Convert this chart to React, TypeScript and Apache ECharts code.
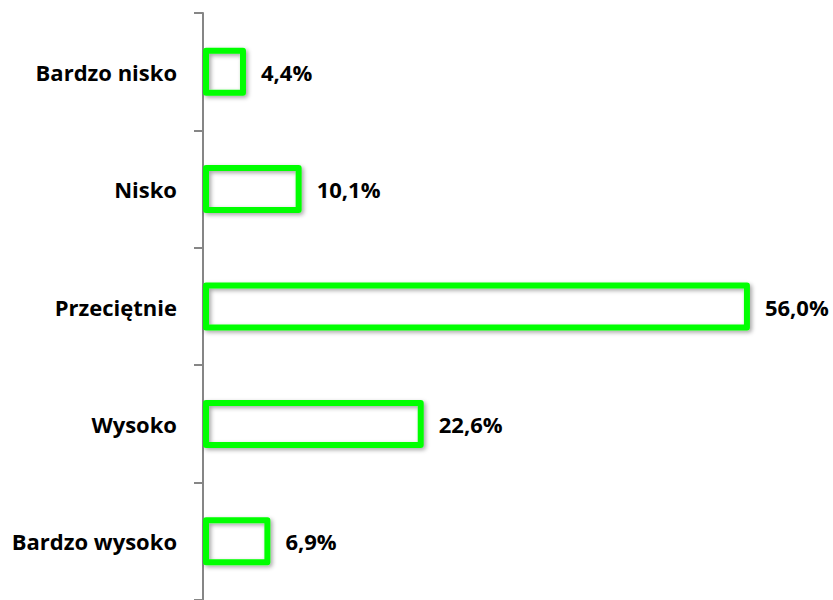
import React, { useEffect, useRef } from "react";
import * as echarts from "echarts";

const categories = ["Bardzo nisko", "Nisko", "Przeciętnie", "Wysoko", "Bardzo wysoko"];
const values = [4.4, 10.1, 56.0, 22.6, 6.9];

export default function App() {
  const ref = useRef<HTMLDivElement>(null);
  useEffect(() => {
    if (!ref.current) return;
    const chart = echarts.init(ref.current, undefined, { renderer: "svg" });
    chart.setOption({
      animation: false,
      backgroundColor: "#ffffff",
      grid: { left: 203, top: 13, width: 586, height: 592.5, containLabel: false },
      xAxis: {
        type: "value",
        min: 0,
        max: 60,
        show: false,
      },
      yAxis: {
        type: "category",
        data: categories,
        inverse: true,
        axisLine: { show: true, lineStyle: { color: "#868686", width: 2 } },
        axisTick: { show: true, length: 9, lineStyle: { color: "#868686", width: 2 } },
        axisLabel: {
          margin: 26,
          fontFamily: "Open Sans",
          fontWeight: "bold",
          fontSize: 22,
          color: "#000000",
        },
        splitLine: { show: false },
      },
      series: [
        {
          type: "bar",
          data: values,
          barWidth: 48,
          itemStyle: {
            color: "rgba(255,255,255,0)",
            borderColor: "#00ff00",
            borderWidth: 6,
            borderJoin: "round",
            shadowBlur: 4,
            shadowColor: "rgba(0,0,0,0.35)",
            shadowOffsetX: 2,
            shadowOffsetY: 2,
          },
          label: {
            show: true,
            position: "right",
            distance: 15,
            fontFamily: "Open Sans",
            fontWeight: "bold",
            fontSize: 22,
            color: "#000000",
            formatter: (p: any) => p.value.toFixed(1).replace(".", ",") + "%",
          },
        },
      ],
    });
    return () => chart.dispose();
  }, []);
  return (
    <div
      ref={ref}
      style={{ position: "fixed", left: 0, top: 0, width: 833, height: 600 }}
    />
  );
}
